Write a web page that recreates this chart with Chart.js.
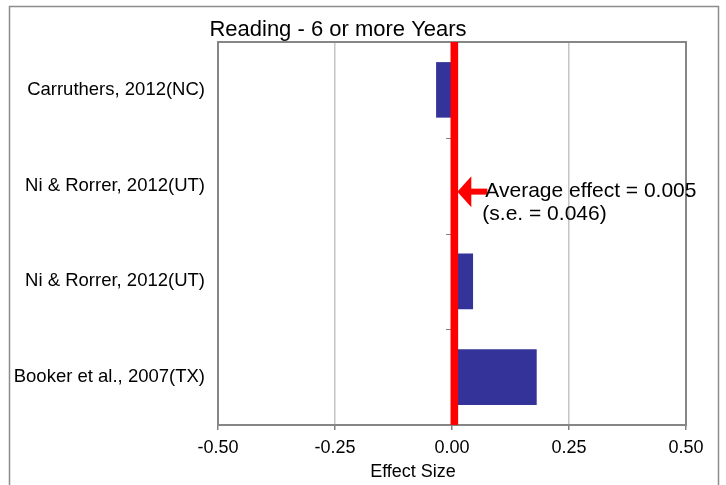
<!DOCTYPE html>
<html>
<head>
<meta charset="utf-8">
<script src="https://cdn.jsdelivr.net/npm/chart.js@4/dist/chart.umd.min.js"></script>
<style>
  html, body { margin: 0; padding: 0; background: #fff; }
  #wrap { width: 726px; height: 485px; }
</style>
</head>
<body>
<div id="wrap"><canvas id="myChart" width="726" height="485"></canvas></div>
<script>
var studies = ["Carruthers, 2012(NC)", "Ni & Rorrer, 2012(UT)", "Ni & Rorrer, 2012(UT)", "Booker et al., 2007(TX)"];
var effects = [-0.034, 0.002, 0.045, 0.181];
var xTicks = [-0.5, -0.25, 0, 0.25, 0.5];
var avgEffect = 0.005;
var avgSE = 0.046;
var chartTitle = "Reading - 6 or more Years";
var xTitle = "Effect Size";

var FONT = "Arial, 'Liberation Sans', sans-serif";

// frame, plot border, average line, arrow and the free text
var decorations = {
  id: 'decorations',
  beforeDraw: function(chart) {
    var c = chart.ctx;
    c.save();
    c.strokeStyle = '#8c8c8c';
    c.lineWidth = 1.5;
    c.strokeRect(9.5, 6.5, 709, 520);
    c.restore();
  },
  afterDatasetsDraw: function(chart) {
    var c = chart.ctx, a = chart.chartArea;
    var xs = chart.scales.x, ys = chart.scales.y;
    var x0 = xs.getPixelForValue(0);
    c.save();
    // plot border
    c.strokeStyle = '#868686';
    c.lineWidth = 2;
    c.strokeRect(a.left, a.top, a.right - a.left, a.bottom - a.top);
    // category ticks on the zero axis
    c.lineWidth = 1;
    c.strokeStyle = '#808080';
    for (var i = 1; i < studies.length; i++) {
      var yb = (ys.getPixelForValue(i - 1) + ys.getPixelForValue(i)) / 2;
      c.beginPath();
      c.moveTo(x0 - 6, Math.round(yb) + 0.5);
      c.lineTo(x0, Math.round(yb) + 0.5);
      c.stroke();
    }
    // average effect line
    var xa = xs.getPixelForValue(avgEffect);
    c.fillStyle = '#ff0000';
    c.fillRect(xa - 3.8, a.top, 7.6, a.bottom - a.top);
    // arrow pointing at the line
    var ya = ys.getPixelForValue(1) + 6;
    var tip = xa + 3;
    c.fillRect(tip + 12, ya - 3, 18, 6);
    c.beginPath();
    c.moveTo(tip, ya);
    c.lineTo(tip + 14, ya - 15.5);
    c.lineTo(tip + 14, ya + 15.5);
    c.closePath();
    c.fill();
    // annotation
    c.fillStyle = '#000';
    c.font = '21px ' + FONT;
    c.textBaseline = 'middle';
    c.textAlign = 'left';
    c.fillText('Average effect = ' + avgEffect.toFixed(3), tip + 28, ya);
    c.fillText('(s.e. = ' + avgSE.toFixed(3) + ')', tip + 25, ya + 23);
    // titles
    c.font = '22px ' + FONT;
    c.textAlign = 'center';
    c.textBaseline = 'alphabetic';
    c.fillText(chartTitle, 338, 36);
    c.font = '18px ' + FONT;
    c.textBaseline = 'middle';
    c.fillText(xTitle, 413, 472);
    c.restore();
  }
};

var ctx = document.getElementById("myChart");
var myChart = new Chart(ctx, {
  type: 'bar',
  data: {
    labels: studies,
    datasets: [{
      data: effects,
      backgroundColor: '#333399',
      borderWidth: 0,
      categoryPercentage: 0.58,
      barPercentage: 1
    }]
  },
  options: {
    indexAxis: 'y',
    responsive: false,
    animation: false,
    layout: { padding: { top: 42, right: 40, left: 0, bottom: 0 } },
    plugins: {
      legend: { display: false },
      tooltip: { enabled: false }
    },
    scales: {
      x: {
        min: -0.5,
        max: 0.5,
        afterBuildTicks: function(axis) {
          axis.ticks = xTicks.map(function(v) { return { value: v }; });
        },
        afterFit: function(axis) { axis.height = 60; },
        grid: {
          color: '#c4c4c4',
          tickColor: '#808080',
          tickLength: 5,
          lineWidth: 1.5
        },
        border: { display: false },
        ticks: {
          color: '#000',
          padding: 7,
          maxRotation: 0,
          font: { family: FONT, size: 18 },
          callback: function(v) { return Number(v).toFixed(2); }
        }
      },
      y: {
        afterFit: function(axis) { axis.width = 218; },
        grid: { display: false, drawTicks: false },
        border: { display: false },
        ticks: {
          color: '#000',
          padding: 13,
          font: { family: FONT, size: 18.5 }
        }
      }
    }
  },
  plugins: [decorations]
});
</script>
</body>
</html>
